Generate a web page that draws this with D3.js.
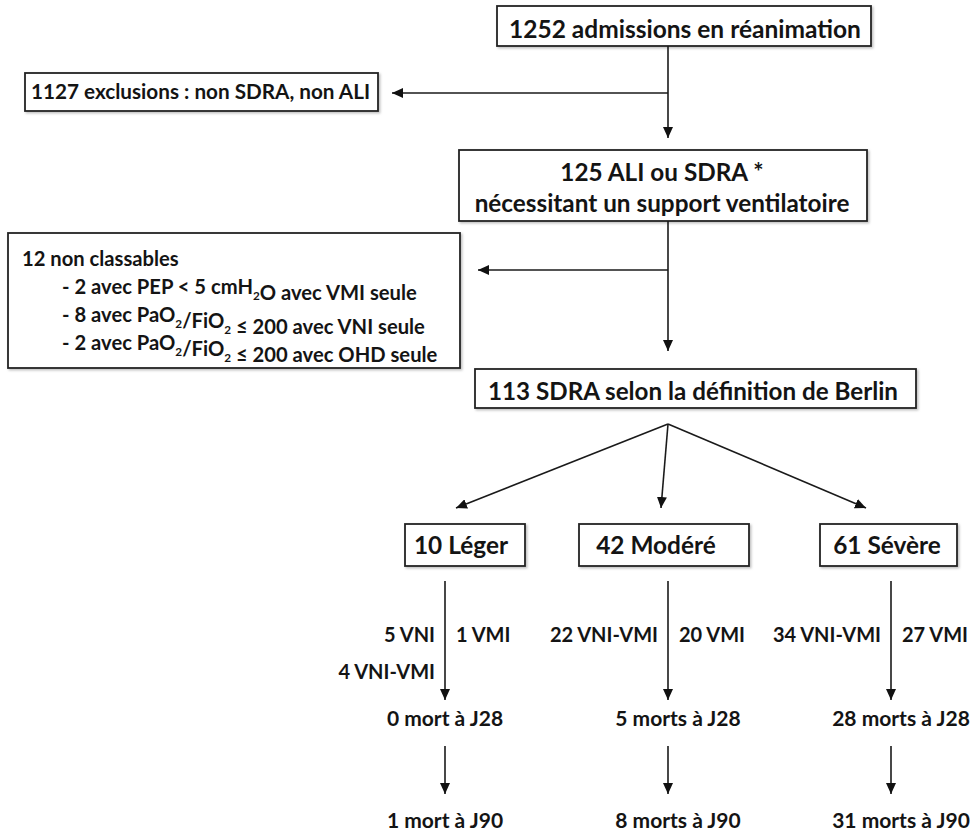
<!DOCTYPE html>
<html>
<head>
<meta charset="utf-8">
<script src="https://cdn.jsdelivr.net/npm/d3@7"></script>
<style>
  body { margin: 0; background: #fff; }
  text { font-family: Lato, "Open Sans", sans-serif; font-weight: 700; fill: #141414; }
</style>
</head>
<body>
<div id="chart"></div>
<script>
// --- texts / counts ---
const admissions = ["1252 admissions en réanimation"];
const exclusions = ["1127 exclusions : non SDRA, non ALI"];
const aliSdra = ["125 ALI ou SDRA *", "nécessitant un support ventilatoire"];
// "_2" = subscript 2
const nonClassables = [
  "12 non classables",
  "- 2 avec PEP < 5 cmH_2O avec VMI seule",
  "- 8 avec PaO_2/FiO_2 ≤ 200 avec VNI seule",
  "- 2 avec PaO_2/FiO_2 ≤ 200 avec OHD seule"
];
const berlin = ["113 SDRA selon la définition de Berlin"];
const severity = ["Léger", "Modéré", "Sévère"];
const severityCounts = [10, 42, 61];
const leftLabels = [["5 VNI", "4 VNI-VMI"], ["22 VNI-VMI"], ["34 VNI-VMI"]];
const rightLabels = [["1 VMI"], ["20 VMI"], ["27 VMI"]];
const deathsJ28 = [0, 5, 28];
const deathsJ90 = [1, 8, 31];

const width = 970, height = 834;

const svg = d3.select("#chart")
  .append("svg")
    .attr("width", width)
    .attr("height", height);

const defs = svg.append("defs");
defs.append("marker")
    .attr("id", "head")
    .attr("markerUnits", "userSpaceOnUse")
    .attr("markerWidth", 11).attr("markerHeight", 10)
    .attr("refX", 11).attr("refY", 5)
    .attr("orient", "auto")
  .append("path")
    .attr("d", "M0,0 L11,5 L0,10 Z")
    .attr("fill", "#111");
const shadow = defs.append("filter").attr("id", "shadow")
    .attr("x", "-5%").attr("y", "-20%").attr("width", "115%").attr("height", "150%");
shadow.append("feDropShadow")
    .attr("dx", 1.5).attr("dy", 1.5).attr("stdDeviation", 1.2)
    .attr("flood-color", "#000").attr("flood-opacity", 0.25);

// write text with "_x" subscripts
function richText(g, x, y, str, size, anchor) {
  const t = g.append("text")
      .attr("x", x).attr("y", y)
      .attr("font-size", size)
      .attr("text-anchor", anchor || "start");
  const shift = size * 0.3;
  str.split(/(_\d)/).forEach(p => {
    if (!p) return;
    if (p[0] === "_") {
      t.append("tspan").attr("font-size", size * 0.58).attr("dy", shift).text(p[1]);
      t.append("tspan").attr("dy", -shift).text("");
    } else {
      t.append("tspan").text(p);
    }
  });
  return t;
}

function box(x, y, w, h) {
  svg.append("rect")
      .attr("x", x).attr("y", y)
      .attr("width", w).attr("height", h)
      .attr("fill", "#fff")
      .attr("stroke", "#222")
      .attr("stroke-width", 1.8)
      .attr("filter", "url(#shadow)");
}

function line(x1, y1, x2, y2, head) {
  svg.append("line")
      .attr("x1", x1).attr("y1", y1)
      .attr("x2", x2).attr("y2", y2)
      .attr("stroke", "#1a1a1a")
      .attr("stroke-width", 1.6)
      .attr("marker-end", head ? "url(#head)" : null);
}

const mainX = 668;

// top of the flow
box(497, 6, 374, 40);
richText(svg, 685, 38, admissions[0], 24.5, "middle");
line(mainX, 46, mainX, 138, true);
line(mainX, 93, 392, 93, true);

box(25, 73, 353, 38);
richText(svg, 31, 99, exclusions[0], 20.7);

box(459, 150, 408, 71);
aliSdra.forEach((s, i) => richText(svg, 662, 181 + i * 31, s, 24.3, "middle"));
line(mainX, 221, mainX, 351, true);
line(mainX, 270, 478, 270, true);

box(8, 233, 452, 135);
nonClassables.forEach((s, i) => richText(svg, i === 0 ? 22 : 62, 266 + i * 28, s, 20.2));

box(475, 369, 441, 39);
richText(svg, 693, 400, berlin[0], 24.2, "middle");

// three severity columns
const col = d3.scalePoint().domain(severity).range([445, 891]);
const tipX = d3.scalePoint().domain(severity).range([456, 866]);
const boxLeft = {"Léger": 405, "Modéré": 579, "Sévère": 820};
const boxW = {"Léger": 120, "Modéré": 170, "Sévère": 137};
const textX = {"Léger": 461, "Modéré": 656, "Sévère": 887};
const deathDx = [0, 10, 10];
const apexY = 424;

severity.forEach((s, i) => {
  line(mainX, apexY, tipX(s), 508, true);
  box(boxLeft[s], 524, boxW[s], 42);
  richText(svg, textX[s], 554, severityCounts[i] + " " + s, 24.4, "middle");

  const x = col(s);
  line(x, 581, x, 700, true);
  leftLabels[i].forEach((l, j) => richText(svg, x - 10, 642 + j * 37, l, 20, "end"));
  rightLabels[i].forEach((l, j) => richText(svg, x + 11, 642 + j * 37, l, 20, "start"));

  const mort = n => n + (n > 1 ? " morts" : " mort");
  richText(svg, x + deathDx[i], 726, mort(deathsJ28[i]) + " à J28", 21, "middle");
  line(x, 746, x, 794, true);
  richText(svg, x + deathDx[i], 828, mort(deathsJ90[i]) + " à J90", 21, "middle");
});
</script>
</body>
</html>
